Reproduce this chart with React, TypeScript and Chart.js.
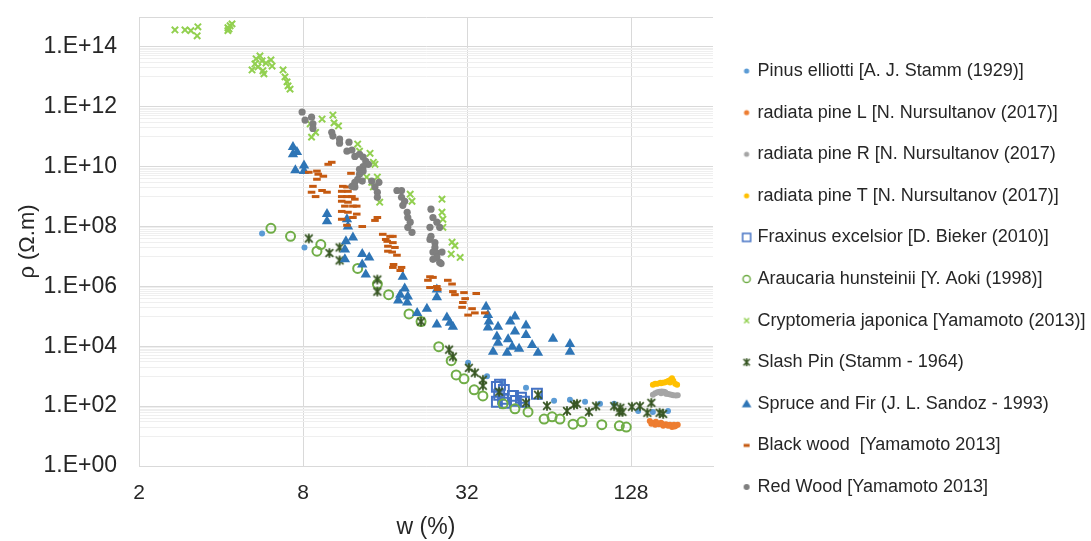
import React, { useEffect, useRef } from 'react';
import { Chart, registerables } from 'chart.js';

Chart.register(...registerables);

type P = [number, number];

const FONT = "'Liberation Sans', Arial, Helvetica, sans-serif";
const TEXT = '#262626';

const seriesLabels = [
  'Pinus elliotti [A. J. Stamm (1929)]',
  'radiata pine L [N. Nursultanov (2017)]',
  'radiata pine R [N. Nursultanov (2017)',
  'radiata pine T [N. Nursultanov (2017)]',
  'Fraxinus excelsior [D. Bieker (2010)]',
  'Araucaria hunsteinii [Y. Aoki (1998)]',
  'Cryptomeria japonica [Yamamoto (2013)]',
  'Slash Pin (Stamm - 1964)',
  'Spruce and Fir (J. L. Sandoz - 1993)',
  'Black wood  [Yamamoto 2013]',
  'Red Wood [Yamamoto 2013]',
];

const pinusElliotti: P[] = [
  [5.66, 5.9e7], [8.1, 2.0e7], [32.3, 2.8e3], [37.9, 1.0e3], [43.0, 650], [52.7, 410], [59.3, 205],
  [66.8, 150], [76.4, 163], [86.8, 139], [98.5, 119], [111, 119], [136, 69], [154, 64], [175, 69],
];

const radiataPineL: P[] = [
  [150, 32], [154, 28], [158, 30], [162, 25], [165, 28], [169, 24], [172, 25], [175, 22], [178, 24],
  [181, 20], [184, 24], [187, 22], [190, 24], [157, 24], [168, 22], [152, 26], [160, 27], [166, 26],
  [176, 23], [185, 21],
];

const radiataPineR: P[] = [
  [154, 240], [157, 270], [160, 290], [163, 300], [166, 310], [169, 300], [171, 290], [174, 260],
  [177, 250], [180, 240], [183, 230], [187, 225], [190, 230], [165, 270], [172, 260],
];

const radiataPineT: P[] = [
  [154, 520], [157, 560], [160, 560], [164, 600], [167, 600], [170, 620], [173, 650], [176, 700],
  [179, 760], [181, 850], [183, 700], [186, 560], [189, 520], [165, 580], [178, 620],
];

const fraxinusExcelsior: P[] = [
  [41.2, 440], [42.3, 520], [43.7, 350], [42.0, 240], [43.4, 175], [41.2, 140], [44.1, 130],
  [47.2, 220], [48.4, 150], [50.5, 190], [51.8, 140], [57.8, 260],
];

const araucariaHunsteinii: P[] = [
  [6.1, 8.7e7], [7.2, 4.7e7], [9.3, 2.5e7], [9.0, 1.5e7], [12.7, 4.0e6], [15.0, 1.2e6], [16.5, 5.3e5],
  [19.6, 1.2e5], [21.7, 6.7e4], [25.2, 9.7e3], [28.0, 3.3e3], [29.2, 1.1e3], [31.2, 820], [34.0, 350],
  [36.6, 220], [43.4, 119], [48.0, 81], [53.6, 64], [61.4, 37], [65.7, 44], [70.2, 37], [78.4, 25],
  [84.6, 30], [100, 24], [116, 22], [123, 20],
];

const cryptomeriaJaponica: P[] = [
  [2.71, 3.7e14], [2.95, 3.7e14], [3.10, 3.5e14], [3.27, 2.35e14], [3.29, 4.7e14], [4.24, 4.4e14],
  [4.32, 5.1e14], [4.24, 3.5e14], [4.39, 5.9e14], [4.28, 4.0e14],
  [5.38, 4.0e13], [5.56, 5.0e13], [5.66, 3.4e13], [6.10, 3.7e13], [5.20, 1.7e13], [5.47, 2.15e13],
  [5.70, 1.6e13], [6.16, 2.3e13], [5.75, 1.26e13], [6.76, 1.7e13], [6.87, 1.0e13], [6.99, 6.8e12],
  [7.05, 5.0e12], [7.17, 3.9e12], [5.33, 2.7e13], [5.85, 2.9e13],
  [8.5, 2.7e11], [8.6, 9.7e10], [8.9, 1.4e11], [9.4, 3.9e11], [10.3, 5.3e11], [10.4, 2.9e11],
  [10.8, 2.3e11], [12.7, 5.7e10], [12.9, 3.3e10], [14.1, 2.8e10], [14.5, 1.4e10], [14.7, 1.2e10],
  [13.7, 4.5e9], [14.3, 3.0e9], [15.0, 4.5e9], [14.5, 2.1e9], [15.3, 6.5e8], [19.8, 1.2e9],
  [20.1, 7.0e8], [25.9, 8.2e8], [25.9, 3.0e8], [26.1, 1.75e8], [26.1, 9.4e7], [28.2, 3.0e7],
  [28.9, 2.3e7], [28.0, 1.2e7], [30.2, 9.3e6],
];

const slashPin: P[] = [
  [8.4, 4.0e7], [10.0, 1.3e7], [10.9, 2.0e7], [10.9, 7.4e6], [15.0, 1.7e6], [15.0, 6.7e5],
  [21.7, 6.7e4], [27.5, 7.7e3], [28.4, 4.5e3], [32.5, 1.9e3], [34.2, 1.3e3], [36.6, 760], [36.6, 480],
  [42.0, 300], [52.7, 129], [58.3, 240], [62.9, 102], [74.5, 69], [79.0, 110], [81.1, 119], [89.7, 64],
  [95.3, 100], [111, 100], [116, 64], [117, 88], [119, 64], [129, 95], [138, 100], [147, 60],
  [152, 129], [163, 60], [168, 55],
];

const spruceAndFir: P[] = [
  [7.35, 4.5e10], [7.35, 2.6e10], [7.6, 3.1e10], [7.5, 7.6e9], [8.07, 1.1e10], [8.07, 7.1e9],
  [9.8, 2.6e8], [9.8, 1.5e8], [11.6, 1.75e8], [11.7, 1.0e8], [11.5, 3.2e7], [12.2, 4.3e7],
  [11.4, 1.7e7], [11.4, 8.0e6], [13.2, 1.2e7], [14.0, 9.3e6], [13.2, 5.4e6], [13.6, 2.5e6],
  [18.6, 2.1e6], [18.9, 8.5e5], [18.2, 5.3e5], [19.4, 4.6e5], [17.9, 3.4e5], [19.3, 2.9e5],
  [21.0, 1.3e5], [22.8, 1.8e5], [24.8, 7.9e5], [24.8, 4.3e5], [24.8, 5.3e4], [27.0, 9.2e4],
  [27.7, 6.1e4], [28.4, 4.5e4], [37.6, 2.1e5], [38.2, 1.1e5], [38.5, 6.7e4], [38.2, 4.2e4],
  [39.9, 6.6e3], [41.6, 4.5e4], [41.2, 2.1e4], [41.6, 1.3e4], [45.3, 1.7e4], [46.1, 6.7e4],
  [48.0, 9.8e4], [48.0, 3.1e4], [44.9, 6.1e3], [46.9, 9.7e3], [49.7, 8.3e3], [52.7, 4.9e4],
  [52.7, 2.4e4], [55.5, 1.1e4], [58.3, 6.1e3], [66.2, 1.8e4], [76.4, 1.2e4], [76.4, 6.6e3],
];

const blackWood: P[] = [
  [10.2, 1.4e10], [9.9, 1.2e10], [8.4, 6.5e9], [9.0, 7.1e9], [9.1, 5.6e9], [9.5, 4.8e9], [9.0, 3.8e9],
  [8.7, 2.2e9], [8.6, 1.4e9], [8.9, 1.0e9], [9.4, 1.6e9], [9.8, 1.4e9], [12.0, 6.0e9], [11.2, 2.2e9],
  [11.6, 2.1e9], [11.1, 1.5e9], [11.7, 1.5e9], [11.1, 1.0e9], [11.6, 1.0e9], [12.1, 1.0e9],
  [12.4, 8.2e8], [11.1, 7.0e8], [11.7, 6.5e8], [12.2, 4.8e8], [12.6, 4.8e8], [11.4, 4.8e8],
  [11.1, 3.2e8], [11.7, 3.0e8], [12.6, 2.6e8], [12.2, 2.0e8], [11.1, 1.75e8], [11.6, 1.1e8],
  [13.2, 1.0e8], [14.7, 1.6e8], [15.0, 2.0e8], [15.7, 5.5e7], [16.1, 3.7e7], [16.7, 4.7e7],
  [17.1, 4.7e7], [16.3, 3.2e7], [17.1, 2.9e7], [16.4, 2.2e7], [17.4, 2.0e7], [16.4, 1.5e7],
  [17.0, 1.4e7], [17.7, 1.1e7], [17.2, 5.4e6], [17.1, 4.3e6], [18.4, 4.3e6], [18.2, 3.4e6],
  [23.4, 2.1e6], [23.0, 1.6e6], [24.0, 2.0e6], [23.4, 9.2e5], [24.8, 9.9e5], [25.0, 7.9e5],
  [27.2, 1.6e6], [28.2, 1.2e6], [28.4, 6.7e5], [28.9, 5.3e5], [31.2, 6.2e5], [31.5, 3.9e5],
  [30.9, 2.9e5], [30.7, 2.0e5], [33.4, 1.8e5], [34.2, 1.3e5], [32.3, 1.1e5], [34.6, 5.8e5],
  [37.2, 1.3e5],
];

const redWood: P[] = [
  [7.94, 6.7e11], [8.14, 3.6e11], [8.6, 4.5e11], [8.7, 2.7e11], [8.7, 1.9e11], [10.2, 1.4e11],
  [10.3, 1.05e11], [10.9, 8.3e10], [10.9, 6.1e10], [11.8, 6.6e10], [11.6, 3.3e10], [12.1, 3.6e10],
  [12.4, 2.2e10], [12.9, 2.6e10], [13.3, 2.1e10], [13.6, 1.5e10], [13.9, 1.2e10], [13.3, 1.0e10],
  [12.9, 8.2e9], [13.3, 7.1e9], [12.9, 5.6e9], [12.7, 3.8e9], [12.4, 3.0e9], [13.2, 3.3e9],
  [12.4, 2.1e9], [12.1, 2.2e9], [14.3, 3.3e9], [14.7, 2.1e9], [15.0, 1.4e9], [15.0, 9.5e8],
  [15.2, 3.0e9], [17.7, 1.6e9], [18.4, 1.6e9], [18.4, 9.5e8], [18.9, 7.0e8], [18.6, 5.1e8],
  [19.3, 3.0e8], [19.4, 2.0e8], [19.8, 1.4e8], [19.4, 9.4e7], [20.1, 6.4e7], [23.6, 3.8e8],
  [24.0, 2.0e8], [23.4, 9.4e7], [24.8, 1.4e8], [25.4, 9.4e7], [23.6, 4.7e7], [23.4, 3.7e7],
  [24.4, 2.9e7], [24.4, 2.0e7], [24.0, 1.4e7], [24.8, 1.3e7], [24.8, 9.3e6], [24.0, 8.0e6],
  [25.4, 6.3e6], [25.9, 1.4e7], [25.7, 5.8e6],
];

const seriesData: P[][] = [
  pinusElliotti, radiataPineL, radiataPineR, radiataPineT, fraxinusExcelsior, araucariaHunsteinii,
  cryptomeriaJaponica, slashPin, spruceAndFir, blackWood, redWood,
];

const xTickValues = [2, 8, 32, 128];
const xTickLabels = ['2', '8', '32', '128'];
const yTickValues = [1, 1e2, 1e4, 1e6, 1e8, 1e10, 1e12, 1e14];
const yTickLabels = ['1.E+00', '1.E+02', '1.E+04', '1.E+06', '1.E+08', '1.E+10', '1.E+12', '1.E+14'];

const C = {
  pinus: '#5B9BD5', radL: '#ED7D31', radR: '#A5A5A5', radT: '#FFC000', frax: '#4472C4',
  arau: '#70AD47', crypto: '#92D050', slash: '#375623', spruce: '#2E75B6', black: '#C55A11', red: '#7F7F7F',
};

function makeCanvas(w: number, h: number, draw: (c: CanvasRenderingContext2D) => void) {
  const cv = document.createElement('canvas');
  cv.width = w;
  cv.height = h;
  const c = cv.getContext('2d') as CanvasRenderingContext2D;
  draw(c);
  return cv;
}

function asterisk(c: CanvasRenderingContext2D, cx: number, cy: number, r: number, color: string, lw: number) {
  c.strokeStyle = color;
  c.lineWidth = lw;
  c.lineCap = 'butt';
  c.beginPath();
  c.moveTo(cx - r * 0.8, cy - r * 0.8);
  c.lineTo(cx + r * 0.8, cy + r * 0.8);
  c.moveTo(cx + r * 0.8, cy - r * 0.8);
  c.lineTo(cx - r * 0.8, cy + r * 0.8);
  c.moveTo(cx, cy - r);
  c.lineTo(cx, cy + r);
  c.stroke();
}

function legendIcon(kind: string, color: string) {
  return makeCanvas(24, 20, (c) => {
    const x = 16;
    const y = 10;
    c.fillStyle = color;
    c.strokeStyle = color;
    if (kind === 'dot') {
      c.beginPath(); c.arc(x, y, 2.6, 0, Math.PI * 2); c.fill();
    } else if (kind === 'bigdot') {
      c.beginPath(); c.arc(x, y, 3, 0, Math.PI * 2); c.fill();
    } else if (kind === 'square') {
      c.lineWidth = 1.5; c.strokeRect(x - 4, y - 4, 8, 8);
    } else if (kind === 'ring') {
      c.lineWidth = 1.5; c.beginPath(); c.arc(x, y, 3.6, 0, Math.PI * 2); c.stroke();
    } else if (kind === 'x') {
      c.lineWidth = 1.5; c.beginPath();
      c.moveTo(x - 2.5, y - 2.5); c.lineTo(x + 2.5, y + 2.5);
      c.moveTo(x + 2.5, y - 2.5); c.lineTo(x - 2.5, y + 2.5); c.stroke();
    } else if (kind === 'star') {
      asterisk(c, x, y, 4, color, 1.6);
    } else if (kind === 'tri') {
      c.beginPath(); c.moveTo(x, y - 4.5); c.lineTo(x + 4.8, y + 3.5); c.lineTo(x - 4.8, y + 3.5); c.closePath(); c.fill();
    } else if (kind === 'dash') {
      c.fillRect(x - 3, y - 1.5, 6, 3);
    }
  });
}

export default function App() {
  const ref = useRef<HTMLCanvasElement | null>(null);

  useEffect(() => {
    if (!ref.current) return;
    const starImg = makeCanvas(12, 12, (c) => asterisk(c, 6, 6, 4.8, C.slash, 1.8));

    const styles: any[] = [
      { pointStyle: 'circle', pointRadius: 3, backgroundColor: C.pinus, borderColor: C.pinus, pointBorderWidth: 0 },
      { pointStyle: 'circle', pointRadius: 3, backgroundColor: C.radL, borderColor: C.radL, pointBorderWidth: 0 },
      { pointStyle: 'circle', pointRadius: 3, backgroundColor: C.radR, borderColor: C.radR, pointBorderWidth: 0 },
      { pointStyle: 'circle', pointRadius: 3, backgroundColor: C.radT, borderColor: C.radT, pointBorderWidth: 0 },
      { pointStyle: 'rect', pointRadius: 7, backgroundColor: 'rgba(0,0,0,0)', borderColor: C.frax, pointBorderWidth: 2 },
      { pointStyle: 'circle', pointRadius: 4.5, backgroundColor: 'rgba(0,0,0,0)', borderColor: C.arau, pointBorderWidth: 2 },
      { pointStyle: 'crossRot', pointRadius: 4.5, backgroundColor: C.crypto, borderColor: C.crypto, pointBorderWidth: 2 },
      { pointStyle: starImg, pointRadius: 5, backgroundColor: C.slash, borderColor: C.slash, pointBorderWidth: 0 },
      { pointStyle: 'triangle', pointRadius: 6, backgroundColor: C.spruce, borderColor: C.spruce, pointBorderWidth: 0 },
      { pointStyle: 'line', pointRadius: 3.8, backgroundColor: C.black, borderColor: C.black, pointBorderWidth: 3 },
      { pointStyle: 'circle', pointRadius: 3.6, backgroundColor: C.red, borderColor: C.red, pointBorderWidth: 0 },
    ];

    const icons = [
      legendIcon('dot', C.pinus), legendIcon('dot', C.radL), legendIcon('dot', C.radR), legendIcon('dot', C.radT),
      legendIcon('square', C.frax), legendIcon('ring', C.arau), legendIcon('x', C.crypto), legendIcon('star', C.slash),
      legendIcon('tri', C.spruce), legendIcon('dash', C.black), legendIcon('bigdot', C.red),
    ];

    const datasets = seriesData.map((arr, i) => ({
      label: seriesLabels[i],
      data: arr.map(([x, y]) => ({ x, y })),
      showLine: false,
      order: seriesData.length - i,
      pointHoverRadius: styles[i].pointRadius,
      ...styles[i],
    }));

    const yGrid: number[] = [];
    for (let m = 0; m < 7; m++) {
      yGrid.push(yTickValues[m]);
      for (let k = 1; k <= 9; k++) yGrid.push(k * Math.pow(10, 2 * m + 1));
    }
    yGrid.push(1e14);
    yGrid.push(1e15);

    const isMajorY = (v: number) => yTickValues.includes(v) || v === 1e15;

    const chart = new Chart(ref.current, {
      type: 'scatter',
      data: { datasets },
      options: {
        animation: false,
        responsive: false,
        devicePixelRatio: 1,
        events: [],
        layout: { padding: { top: 17, right: 0, bottom: 0, left: 0 } },
        plugins: {
          tooltip: { enabled: false },
          legend: {
            position: 'right',
            align: 'center',
            maxWidth: 378,
            labels: {
              usePointStyle: true,
              boxWidth: 12,
              boxHeight: 12,
              padding: 23.6,
              color: TEXT,
              font: { family: FONT, size: 18 },
              generateLabels: () =>
                seriesLabels.map((t, i) => ({
                  text: t,
                  pointStyle: icons[i],
                  fillStyle: 'rgba(0,0,0,0)',
                  strokeStyle: 'rgba(0,0,0,0)',
                  lineWidth: 0,
                  hidden: false,
                  datasetIndex: i,
                  fontColor: TEXT,
                })),
            },
          },
        },
        scales: {
          x: {
            type: 'logarithmic',
            min: 2,
            max: 256,
            afterBuildTicks: (s: any) => {
              s.ticks = xTickValues.map((v) => ({ value: v }));
            },
            afterFit: (s: any) => {
              s.height = 75;
              s.paddingLeft = 0;
              s.paddingRight = 0;
            },
            ticks: {
              autoSkip: false,
              maxRotation: 0,
              padding: 15,
              color: TEXT,
              font: { family: FONT, size: 21 },
              callback: (v: any) => {
                const i = xTickValues.indexOf(Number(v));
                return i >= 0 ? xTickLabels[i] : '';
              },
            },
            grid: { drawTicks: false, color: '#D9D9D9', lineWidth: 1 },
            border: { color: '#D9D9D9', width: 1 },
            title: { display: true, text: 'w (%)', color: TEXT, font: { family: FONT, size: 23 }, padding: { top: 0, bottom: 0 } },
          },
          y: {
            type: 'logarithmic',
            min: 1,
            max: 1e15,
            afterBuildTicks: (s: any) => {
              s.ticks = yGrid.map((v) => ({ value: v }));
            },
            afterFit: (s: any) => {
              s.width = 139;
              s.paddingTop = 0;
              s.paddingBottom = 0;
            },
            ticks: {
              autoSkip: false,
              padding: 22,
              color: TEXT,
              font: { family: FONT, size: 23 },
              callback: (v: any) => {
                const i = yTickValues.indexOf(Number(v));
                return i >= 0 ? yTickLabels[i] : '';
              },
            },
            grid: {
              drawTicks: false,
              lineWidth: 1,
              color: (ctx: any) => (ctx.tick && isMajorY(ctx.tick.value) ? '#D9D9D9' : '#EFEFEF'),
            },
            border: { color: '#D9D9D9', width: 1 },
            title: { display: true, text: 'ρ (Ω.m)', color: TEXT, font: { family: FONT, size: 22 }, padding: { top: 15, bottom: 0 } },
          },
        },
      } as any,
    });
    return () => chart.destroy();
  }, []);

  return (
    <div style={{ position: 'fixed', left: 0, top: 0, width: 1091, height: 541, background: '#ffffff' }}>
      <canvas ref={ref} width={1091} height={541} style={{ display: 'block', width: 1091, height: 541 }} />
    </div>
  );
}
